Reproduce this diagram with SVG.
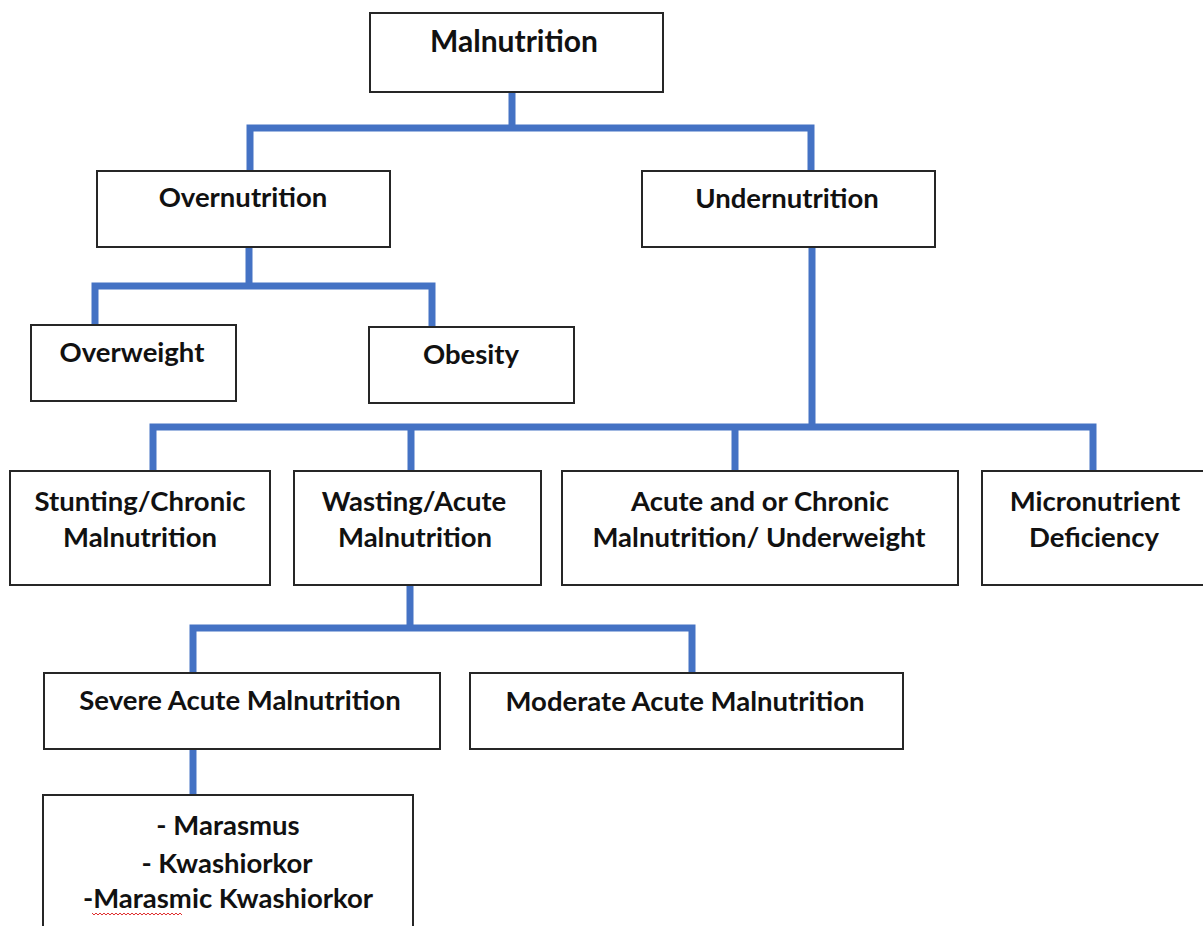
<svg xmlns="http://www.w3.org/2000/svg" width="1203" height="926" viewBox="0 0 1203 926">
<style>
.box{fill:#fff;stroke:#262626;stroke-width:2}
.t{font-family:Lato,"Liberation Sans",sans-serif;font-weight:700;font-size:27.5px;fill:#111;text-anchor:middle}
.big{font-size:30px}
.c{stroke:#4472C4;stroke-width:7;fill:none;stroke-linecap:square}
</style>
<rect width="1203" height="926" fill="#fff"/>
<g id="connectors">
<path class="c" d="M512 93V128M250 128H811M250 128V170M811 128V170"/>
<path class="c" d="M249 248V286M95 286H432M95 286V324M432 286V326"/>
<path class="c" d="M812 248V427M153 427H1093M153 427V470M411 427V470M735 427V470M1093 427V470"/>
<path class="c" d="M410 586V628M193 628H692M193 628V672M692 628V672"/>
<path class="c" d="M193 750V794"/>
</g>
<g id="malnutrition"><rect class="box" x="370" y="13" width="293" height="79"/><text class="t big" x="514" y="52">Malnutrition</text></g>
<g id="overnutrition"><rect class="box" x="97" y="171" width="293" height="76"/><text class="t" x="243" y="207">Overnutrition</text></g>
<g id="undernutrition"><rect class="box" x="642" y="171" width="293" height="76"/><text class="t" x="787" y="208">Undernutrition</text></g>
<g id="overweight"><rect class="box" x="31" y="325" width="205" height="76"/><text class="t" x="132" y="362">Overweight</text></g>
<g id="obesity"><rect class="box" x="369" y="327" width="205" height="76"/><text class="t" x="471" y="364">Obesity</text></g>
<g id="stunting"><rect class="box" x="10" y="471" width="260" height="114"/><text class="t" x="140" y="511">Stunting/Chronic</text><text class="t" x="140" y="547">Malnutrition</text></g>
<g id="wasting"><rect class="box" x="294" y="471" width="247" height="114"/><text class="t" x="414" y="511">Wasting/Acute</text><text class="t" x="415" y="547">Malnutrition</text></g>
<g id="acute-chronic"><rect class="box" x="562" y="471" width="396" height="114"/><text class="t" x="760" y="511">Acute and or Chronic</text><text class="t" x="759" y="547">Malnutrition/ Underweight</text></g>
<g id="micronutrient"><rect class="box" x="982" y="471" width="230" height="114"/><text class="t" x="1095" y="511">Micronutrient</text><text class="t" x="1094" y="547">Deficiency</text></g>
<g id="severe"><rect class="box" x="44" y="673" width="396" height="76"/><text class="t" x="240" y="710">Severe Acute Malnutrition</text></g>
<g id="moderate"><rect class="box" x="470" y="673" width="433" height="76"/><text class="t" x="685" y="711">Moderate Acute Malnutrition</text></g>
<g id="sam-types"><rect class="box" x="43" y="795" width="370" height="150"/>
<text class="t" x="228" y="835">- Marasmus</text>
<text class="t" x="227" y="873">- Kwashiorkor</text>
<text class="t" x="228" y="908">-Marasmic Kwashiorkor</text>
<path d="M92 913l2 2 2-2 2 2 2-2 2 2 2-2 2 2 2-2 2 2 2-2 2 2 2-2 2 2 2-2 2 2 2-2 2 2 2-2 2 2 2-2 2 2 2-2 2 2 2-2 2 2 2-2 2 2 2-2 2 2 2-2 2 2 2-2 2 2 2-2 2 2 2-2 2 2 2-2 2 2 2-2 2 2 2-2 2 2 2-2 2 2" fill="none" stroke="#e03030" stroke-width="1"/>
</g>
</svg>
